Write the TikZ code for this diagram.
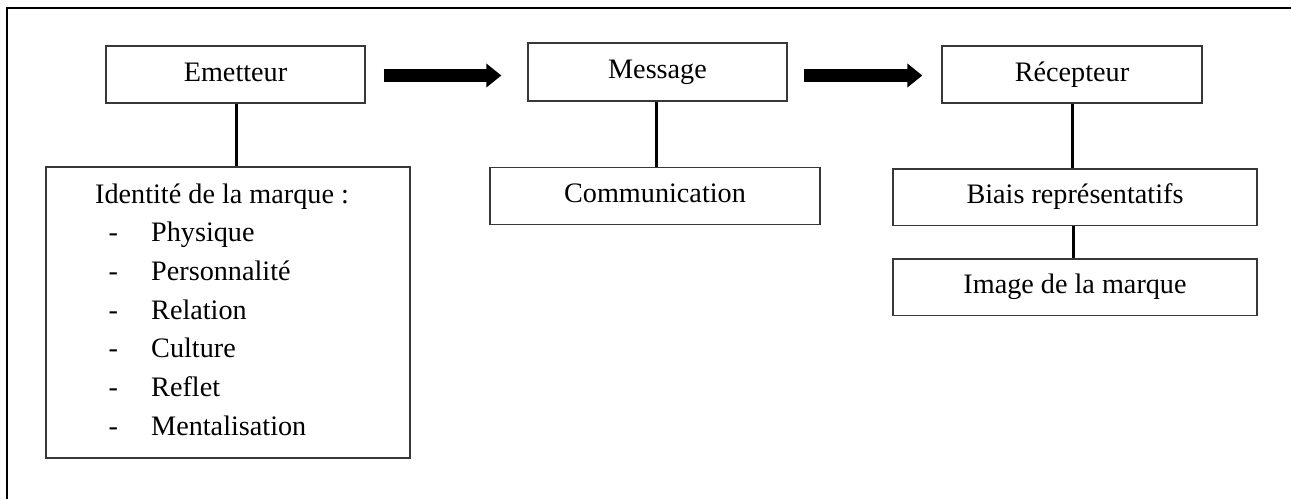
\documentclass[tikz,border=0pt]{standalone}
\usepackage{fontspec}
\setmainfont{Liberation Serif}
\usetikzlibrary{arrows.meta}
\newcommand{\diagfont}{\fontsize{28.2pt}{34pt}\selectfont}
\begin{document}
\begin{tikzpicture}[x=1pt,y=-1pt,
  every node/.style={font=\diagfont, inner sep=0pt},
  box/.style={draw=black!78, line width=1.3pt, fill=white, rectangle,
              text height=20pt, text depth=7pt},
  link/.style={line width=3pt, black},
  bigarrow/.style={line width=13pt, black, -{Triangle[length=15pt,width=23pt]}},
  itemtxt/.style={anchor=base west}]
\useasboundingbox (0,0) rectangle (1291,499);
\fill[white] (0,0) rectangle (1291,499);
% outer frame (only top and left visible)
\draw[line width=2pt] (7,499) -- (7,8) -- (1291,8);
% top row
\node[box, minimum width=259pt, minimum height=57pt] (emet) at (235.5,74.5) {Emetteur};
\node[box, minimum width=259pt, minimum height=58pt] (mess) at (657.5,72) {Message};
\node[box, minimum width=260pt, minimum height=57pt] (rec) at (1072,74.5) {Récepteur};
% second row
\node[box, minimum width=364pt, minimum height=291pt] (ident) at (228,312.5) {};
\node[box, minimum width=330pt, minimum height=57pt] (comm) at (655,196) {Communication};
\node[box, minimum width=364pt, minimum height=56.5pt] (biais) at (1075,197.25) {Biais représentatifs};
\node[box, minimum width=364pt, minimum height=56.7pt] (image) at (1075,287.3) {Image de la marque};
% identity list
\node[itemtxt] (t0) at (95,203) {Identité de la marque :};
\node[itemtxt] (d1) at (108.5,241.7) {-};
\node[itemtxt] (t1) at (151,241.7) {Physique};
\node[itemtxt] (d2) at (108.5,280.4) {-};
\node[itemtxt] (t2) at (151,280.4) {Personnalité};
\node[itemtxt] (d3) at (108.5,319.1) {-};
\node[itemtxt] (t3) at (151,319.1) {Relation};
\node[itemtxt] (d4) at (108.5,357.8) {-};
\node[itemtxt] (t4) at (151,357.8) {Culture};
\node[itemtxt] (d5) at (108.5,396.5) {-};
\node[itemtxt] (t5) at (151,396.5) {Reflet};
\node[itemtxt] (d6) at (108.5,435.2) {-};
\node[itemtxt] (t6) at (151,435.2) {Mentalisation};
% vertical links
\draw[link] ([xshift=0.5pt]emet.south) -- ([xshift=0.5pt]emet.south |- ident.north);
\draw[link] ([xshift=-1.5pt]mess.south) -- ([xshift=-1.5pt]mess.south |- comm.north);
\draw[link] (rec.south) -- (rec.south |- biais.north);
\draw[link] ([xshift=-1.7pt]biais.south) -- ([xshift=-1.7pt]biais.south |- image.north);
% block arrows
\draw[bigarrow] ([xshift=18pt,yshift=-1pt]emet.east) -- ([xshift=-26pt,yshift=-1pt]mess.west |- emet.east);
\draw[bigarrow] ([xshift=16pt,yshift=-1pt]mess.east |- rec.west) -- ([xshift=-19pt,yshift=-1pt]rec.west);
\end{tikzpicture}
\end{document}
